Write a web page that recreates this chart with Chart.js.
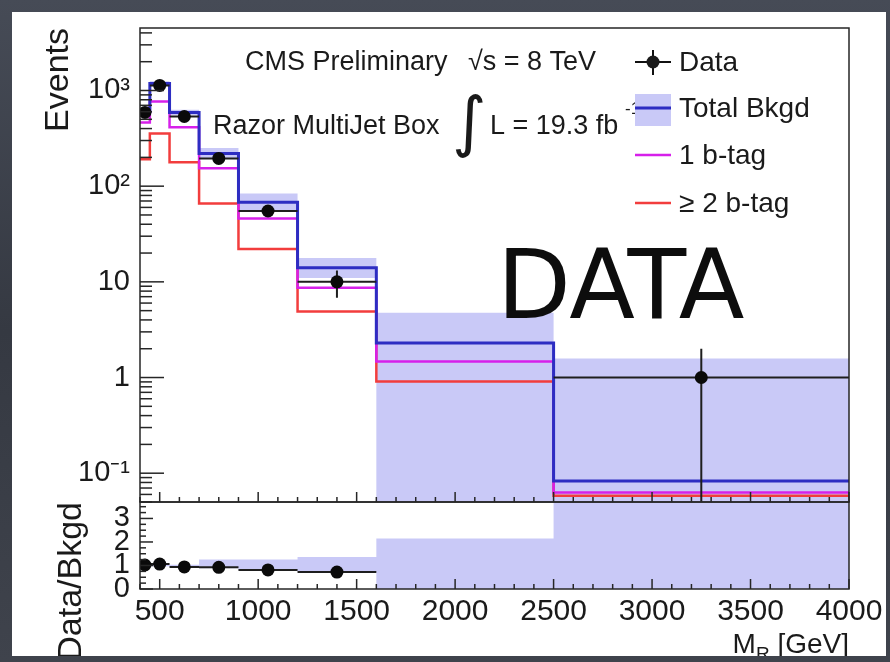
<!DOCTYPE html>
<html>
<head>
<meta charset="utf-8">
<script src="https://cdn.jsdelivr.net/npm/chart.js@4.4.0/dist/chart.umd.min.js"></script>
<style>
    html, body { margin: 0; padding: 0; }
    body {
        width: 890px; height: 662px; overflow: hidden; position: relative;
        background: linear-gradient(180deg, #464b56 0%, #353942 50%, #3f434c 100%);
    }
    #slide {
        position: absolute; left: 12px; top: 12px; width: 874px; height: 644px;
        background: #ffffff; overflow: hidden;
    }
    #plot { position: absolute; left: -12px; top: -12px; }
</style>
</head>
<body>
<div id="slide"><canvas id="plot" width="890" height="662"></canvas></div>
<script>
// Razor MultiJet box, M_R distribution

// bin edges (GeV)
const binEdges = [400, 450, 550, 700, 900, 1200, 1600, 2500, 4000];

// events per bin
const dataCounts = [590, 1130, 535, 195, 55, 10, 0, 1];
const totalBkgd  = [600, 1180, 590, 220, 68, 14, 2.3, 0.083];
const bkgdUp     = [640, 1250, 630, 250, 84, 17.8, 4.75, 1.58];
const bkgdDown   = [560, 1110, 550, 194, 55, 11, 0, 0];
const oneBtag    = [464, 767, 412, 154, 46, 8.7, 1.47, 0.063];
const twoBtag    = [191, 356, 178, 66, 22, 4.9, 0.91, 0.058];

// ratio pad
const ratioVals     = [1.02, 1.06, 0.94, 0.92, 0.81, 0.72, null, null];
const ratioBandUp   = [1.03, 1.03, 1.03, 1.25, 1.25, 1.36, 2.15, 19];
const ratioBandDown = [0.97, 0.97, 0.97, 0.88, 0.8, 0.72, 0, 0];

// axes
const xTicks = [500, 1000, 1500, 2000, 2500, 3000, 3500, 4000];
const yTicks = [0.1, 1, 10, 100, 1000];
const yTickLabels = ["10\u207B\u00B9", "1", "10", "10\u00B2", "10\u00B3"];
const ratioTicks = [0, 1, 2, 3];

const Y_MIN = 0.05, Y_MAX = 4500, R_MAX = 3.7;
const FONT = '"Liberation Sans", Arial, Helvetica, sans-serif';

const BAND = "#c9c9f7";
const BLUE = "#2d2dc2";
const MAGENTA = "#d620ea";
const RED = "#f23d3d";

// histogram outline as stepped points
function stepPoints(vals, lo, hi) {
    const clamp = v => Math.min(Math.max(v, lo), hi);
    const pts = vals.map((v, i) => ({ x: binEdges[i], y: clamp(v) }));
    pts.push({ x: binEdges[vals.length], y: clamp(vals[vals.length - 1]) });
    return pts;
}

function centers(vals) {
    const pts = [];
    vals.forEach((v, i) => {
        if (v > 0) pts.push({ x: (binEdges[i] + binEdges[i + 1]) / 2, y: v });
    });
    return pts;
}

function hBars(vals) {
    const pts = [];
    vals.forEach((v, i) => {
        if (v > 0) {
            pts.push({ x: binEdges[i], y: v }, { x: binEdges[i + 1], y: v }, { x: binEdges[i + 1], y: null });
        }
    });
    return pts;
}

function vBars(vals) {
    const pts = [];
    vals.forEach((v, i) => {
        if (v > 0) {
            const c = (binEdges[i] + binEdges[i + 1]) / 2;
            const e = Math.sqrt(v);
            pts.push({ x: c, y: Math.max(v - e, Y_MIN) }, { x: c, y: v + e }, { x: c, y: null });
        }
    });
    return pts;
}

const lineDefaults = { pointRadius: 0, fill: false, tension: 0 };

// frame, ROOT style ticks and text
const rootStyle = {
    id: "rootStyle",
    afterDatasetsDraw(chart) {
        const ctx = chart.ctx;
        const { left, right } = chart.chartArea;
        const xs = chart.scales.x, ys = chart.scales.y, yr = chart.scales.yr;
        ctx.save();
        ctx.strokeStyle = "#262626";
        ctx.lineWidth = 1.5;

        // frames
        [ys, yr].forEach(s => ctx.strokeRect(left, s.top, right - left, s.bottom - s.top));

        // x ticks on both pad bottoms
        [ys.bottom, yr.bottom].forEach(yb => {
            for (let v = 400; v <= 4000; v += 100) {
                const px = xs.getPixelForValue(v);
                const len = v % 500 === 0 ? 10 : 5;
                ctx.beginPath();
                ctx.moveTo(px, yb);
                ctx.lineTo(px, yb - len);
                ctx.stroke();
            }
        });

        // log y ticks
        for (let d = 0.01; d <= 1000; d *= 10) {
            for (let k = 1; k <= 9; k++) {
                const v = k * d;
                if (v < Y_MIN || v > Y_MAX) continue;
                const py = ys.getPixelForValue(v);
                ctx.beginPath();
                ctx.moveTo(left, py);
                ctx.lineTo(left + (k === 1 ? 24 : 12), py);
                ctx.stroke();
            }
        }

        // ratio y ticks
        for (let v = 0; v <= R_MAX + 1e-6; v += 0.25) {
            const py = yr.getPixelForValue(v);
            const major = Math.abs(v - Math.round(v)) < 1e-6;
            ctx.beginPath();
            ctx.moveTo(left, py);
            ctx.lineTo(left + (major ? 13 : 6), py);
            ctx.stroke();
        }
        ctx.restore();
    },
    afterDraw(chart) {
        const ctx = chart.ctx;
        const xs = chart.scales.x;
        ctx.save();
        ctx.fillStyle = "#1a1a1a";
        ctx.textBaseline = "alphabetic";

        // header text
        ctx.font = "27px " + FONT;
        ctx.fillText("CMS Preliminary", 245, 70);
        ctx.fillText("\u221As = 8 TeV", 468, 70);
        ctx.fillText("Razor MultiJet Box", 213, 134);
        ctx.fillText("L = 19.3 fb", 490, 134);
        ctx.font = "17px " + FONT;
        ctx.fillText("-1", 625, 114);
        ctx.font = '66px "DejaVu Sans"';
        ctx.textBaseline = "middle";
        ctx.fillText("\u222B", 452, 127);

        // legend
        const lx0 = 635, lx1 = 671, tx = 679;
        ctx.lineWidth = 2;
        ctx.strokeStyle = "#111";
        ctx.beginPath();
        ctx.moveTo(lx0, 62); ctx.lineTo(lx1, 62);
        ctx.moveTo(653, 50); ctx.lineTo(653, 75);
        ctx.stroke();
        ctx.beginPath();
        ctx.arc(653, 62, 6.5, 0, Math.PI * 2);
        ctx.fill();

        ctx.fillStyle = BAND;
        ctx.fillRect(lx0, 94, lx1 - lx0, 32);
        ctx.strokeStyle = BLUE; ctx.lineWidth = 3;
        ctx.beginPath(); ctx.moveTo(lx0, 108); ctx.lineTo(lx1, 108); ctx.stroke();
        ctx.strokeStyle = MAGENTA; ctx.lineWidth = 2.5;
        ctx.beginPath(); ctx.moveTo(lx0, 155); ctx.lineTo(lx1, 155); ctx.stroke();
        ctx.strokeStyle = RED;
        ctx.beginPath(); ctx.moveTo(lx0, 203); ctx.lineTo(lx1, 203); ctx.stroke();

        ctx.fillStyle = "#1a1a1a";
        ctx.font = "28px " + FONT;
        ctx.fillText("Data", tx, 63);
        ctx.fillText("Total Bkgd", tx, 109);
        ctx.fillText("1 b-tag", tx, 156);
        ctx.fillText("\u2265 2 b-tag", tx, 204);

        // x axis title with subscript
        ctx.textBaseline = "alphabetic";
        ctx.textAlign = "left";
        const right = xs.right;
        ctx.font = "28px " + FONT;
        const wGev = ctx.measureText(" [GeV]").width;
        const wM = ctx.measureText("M").width;
        ctx.font = "19px " + FONT;
        const wR = ctx.measureText("R").width;
        let x0 = right - wGev - wR - wM;
        ctx.font = "28px " + FONT;
        ctx.fillText("M", x0, 653);
        ctx.font = "19px " + FONT;
        ctx.fillText("R", x0 + wM, 660);
        ctx.font = "28px " + FONT;
        ctx.fillText(" [GeV]", x0 + wM + wR, 653);

        // slide annotation
        ctx.fillStyle = "#0d0d0d";
        ctx.font = '96px "DejaVu Sans"';
        ctx.fillText("DATA", 497, 318);
        ctx.restore();
    }
};

const ctx = document.getElementById("plot");

new Chart(ctx, {
    type: "line",
    data: {
        datasets: [
            // main pad
            { data: centers(dataCounts), yAxisID: "y", showLine: false, pointRadius: 6.5,
              pointBackgroundColor: "#0a0a0a", pointBorderWidth: 0, order: 0 },
            { data: hBars(dataCounts), yAxisID: "y", ...lineDefaults, borderColor: "#1e1e1e", borderWidth: 2, order: 1 },
            { data: vBars(dataCounts), yAxisID: "y", ...lineDefaults, borderColor: "#1e1e1e", borderWidth: 2, order: 1 },
            { data: stepPoints(totalBkgd, Y_MIN, Y_MAX), yAxisID: "y", ...lineDefaults, stepped: "before",
              borderColor: BLUE, borderWidth: 3, order: 3 },
            { data: stepPoints(oneBtag, Y_MIN, Y_MAX), yAxisID: "y", ...lineDefaults, stepped: "before",
              borderColor: MAGENTA, borderWidth: 2.5, order: 4 },
            { data: stepPoints(twoBtag, Y_MIN, Y_MAX), yAxisID: "y", ...lineDefaults, stepped: "before",
              borderColor: RED, borderWidth: 2.5, order: 5 },
            { data: stepPoints(bkgdUp, Y_MIN, Y_MAX), yAxisID: "y", ...lineDefaults, stepped: "before",
              borderColor: "rgba(0,0,0,0)", borderWidth: 0, fill: "+1", backgroundColor: BAND, order: 6 },
            { data: stepPoints(bkgdDown, Y_MIN, Y_MAX), yAxisID: "y", ...lineDefaults, stepped: "before",
              borderColor: "rgba(0,0,0,0)", borderWidth: 0, order: 7 },

            // ratio pad
            { data: centers(ratioVals), yAxisID: "yr", showLine: false, pointRadius: 6.5,
              pointBackgroundColor: "#0a0a0a", pointBorderWidth: 0, order: 0 },
            { data: hBars(ratioVals), yAxisID: "yr", ...lineDefaults, borderColor: "#1e1e1e", borderWidth: 2, order: 1 },
            { data: stepPoints(ratioBandUp, 0, R_MAX), yAxisID: "yr", ...lineDefaults, stepped: "before",
              borderColor: "rgba(0,0,0,0)", borderWidth: 0, fill: "+1", backgroundColor: BAND, order: 6 },
            { data: stepPoints(ratioBandDown, 0, R_MAX), yAxisID: "yr", ...lineDefaults, stepped: "before",
              borderColor: "rgba(0,0,0,0)", borderWidth: 0, order: 7 }
        ]
    },
    options: {
        responsive: false,
        animation: false,
        events: [],
        layout: { padding: { top: 28, right: 41, left: 0, bottom: 0 } },
        plugins: { legend: { display: false }, tooltip: { enabled: false } },
        scales: {
            x: {
                type: "linear", position: "bottom", min: 400, max: 4000,
                grid: { display: false, drawTicks: false }, border: { display: false },
                afterBuildTicks: s => { s.ticks = xTicks.map(v => ({ value: v })); },
                afterFit: s => { s.height = 73; },
                ticks: { color: "#1a1a1a", font: { family: FONT, size: 30 }, padding: 5,
                         maxRotation: 0, autoSkip: false, callback: v => String(v) }
            },
            yr: {
                type: "linear", position: "left", stack: "pads", stackWeight: 87,
                min: 0, max: R_MAX,
                grid: { display: false, drawTicks: false }, border: { display: false },
                afterBuildTicks: s => { s.ticks = ratioTicks.map(v => ({ value: v })); },
                afterFit: s => { s.width = 140; },
                ticks: { color: "#1a1a1a", font: { family: FONT, size: 29 }, padding: 10,
                         autoSkip: false, callback: v => String(v) },
                title: { display: true, text: "Data/Bkgd", align: "end", color: "#1a1a1a",
                         font: { family: FONT, size: 34 }, padding: { top: 51, bottom: 0 } }
            },
            y: {
                type: "logarithmic", position: "left", stack: "pads", stackWeight: 474,
                min: Y_MIN, max: Y_MAX,
                grid: { display: false, drawTicks: false }, border: { display: false },
                afterBuildTicks: s => { s.ticks = yTicks.map(v => ({ value: v })); },
                afterFit: s => { s.width = 140; },
                ticks: { color: "#1a1a1a", font: { family: FONT, size: 29 }, padding: 10,
                         autoSkip: false, callback: (v, i) => yTickLabels[i] },
                title: { display: true, text: "Events", align: "end", color: "#1a1a1a",
                         font: { family: FONT, size: 34 }, padding: { top: 38, bottom: 0 } }
            }
        }
    },
    plugins: [rootStyle]
});
</script>
</body>
</html>
